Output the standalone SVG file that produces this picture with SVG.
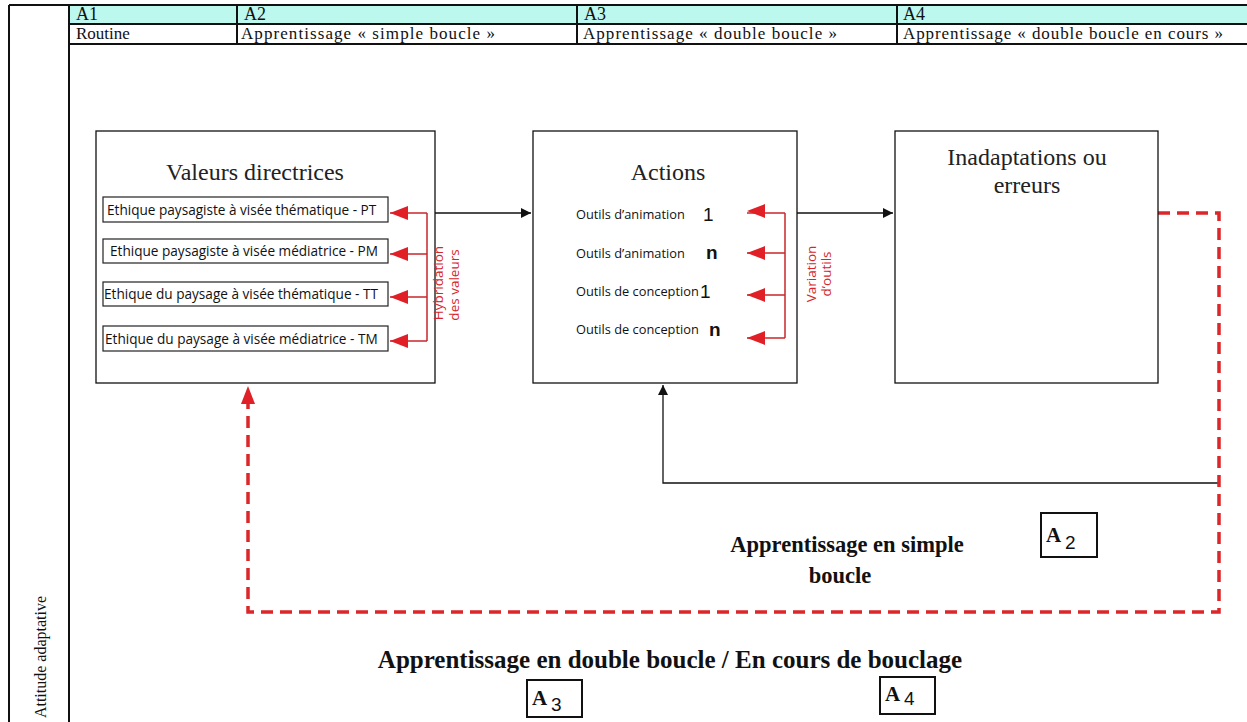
<svg xmlns="http://www.w3.org/2000/svg" width="1247" height="722" viewBox="0 0 1247 722">
<defs>
<style>
.tbl{fill:none;stroke:#111;stroke-width:2}
.th{font-family:"Liberation Serif",serif;font-size:18px;fill:#111}
.td{font-family:"Liberation Serif",serif;font-size:17px;fill:#111}
.box{fill:#fff;stroke:#111;stroke-width:1.3}
.title{font-family:"Liberation Serif","Times New Roman",serif;font-size:24px;fill:#222}
.item{fill:#fff;stroke:#222;stroke-width:1.2}
.it{font-family:"Open Sans","DejaVu Sans",sans-serif;font-size:13.6px;fill:#111}
.ot{font-family:"Open Sans","DejaVu Sans",sans-serif;font-size:12.8px;fill:#111}
.num{font-family:"Liberation Sans",sans-serif;font-size:19px;fill:#111}
.red{fill:none;stroke:#c8272b;stroke-width:1.5}
.rt{font-family:"Open Sans","DejaVu Sans",sans-serif;font-size:13.5px;fill:#d7262b}
.blk{fill:none;stroke:#111;stroke-width:1.3}
.dash{fill:none;stroke:#dc262a;stroke-width:3.5;stroke-dasharray:12 7}
.big{font-family:"Liberation Serif",serif;font-weight:bold;fill:#111}
.lab{fill:#fff;stroke:#111;stroke-width:2}
.lt{font-family:"Liberation Serif",serif;font-size:21px;font-weight:bold;fill:#111}
.sub{font-family:"Liberation Sans",sans-serif;font-size:19px;fill:#111}
</style>
<marker id="ab" viewBox="0 0 10 10" refX="10" refY="5" markerWidth="14" markerHeight="10" markerUnits="userSpaceOnUse" orient="auto"><path d="M0,0 L10,5 L0,10 z" fill="#111"/></marker>
</defs>
<rect width="1247" height="722" fill="#fff"/>

<g id="table">
<rect x="69" y="5" width="1180" height="19" fill="#bcf8ee"/>
<path class="tbl" d="M9,5 H1249 M69,24 H1249 M69,44 H1249 M9,5 V722 M69,5 V722 M237,5 V44 M577,5 V44 M897,5 V44"/>
<text class="th" x="76" y="20">A1</text>
<text class="th" x="244" y="20">A2</text>
<text class="th" x="584" y="20">A3</text>
<text class="th" x="903" y="20">A4</text>
<text class="td" x="76" y="39">Routine</text>
<text class="td" x="241" y="39" textLength="254" lengthAdjust="spacing">Apprentissage « simple boucle »</text>
<text class="td" x="583" y="39" textLength="254" lengthAdjust="spacing">Apprentissage « double boucle »</text>
<text class="td" x="903" y="39" textLength="320" lengthAdjust="spacing">Apprentissage « double boucle en cours »</text>
<text class="td" transform="translate(46,657) rotate(-90)" text-anchor="middle" style="font-size:16px">Attitude adaptative</text>
</g>

<g id="connectors">
<path class="blk" d="M435,213 H531" marker-end="url(#ab)"/>
<path class="blk" d="M797,213 H893" marker-end="url(#ab)"/>
<path class="blk" d="M1219,483 H663 V385" marker-end="url(#ab)"/>
<path class="dash" d="M1158,213 H1219 V612 H248 V400"/>
<path d="M248,386 L241,404 L255,404 z" fill="#e01f26"/>
</g>

<g id="valeurs">
<rect class="box" x="96" y="131" width="339" height="252"/>
<text class="title" x="255" y="180" text-anchor="middle">Valeurs directrices</text>
<rect class="item" x="103" y="197" width="285" height="25"/>
<text class="it" x="107" y="215">Ethique paysagiste à visée thématique - PT</text>
<rect class="item" x="103" y="239" width="285" height="24"/>
<text class="it" x="110" y="256">Ethique paysagiste à visée médiatrice - PM</text>
<rect class="item" x="103" y="282" width="285" height="24"/>
<text class="it" x="104" y="299">Ethique du paysage à visée thématique - TT</text>
<rect class="item" x="103" y="326" width="285" height="25"/>
<text class="it" x="105" y="344">Ethique du paysage à visée médiatrice - TM</text>
<path class="red" d="M427,213 V341 M427,213 H390 M427,254 H390 M427,297 H390 M427,341 H390"/>
<path d="M390,213 L408,206 L408,220 z M390,254 L408,247 L408,261 z M390,297 L408,290 L408,304 z M390,341 L408,334 L408,348 z" fill="#e01f26"/>
<text class="rt" transform="translate(443,283) rotate(-90)" text-anchor="middle">Hybridation</text>
<text class="rt" transform="translate(459,285) rotate(-90)" text-anchor="middle">des valeurs</text>
</g>

<g id="actions">
<rect class="box" x="533" y="131" width="264" height="252"/>
<text class="title" x="668" y="180" text-anchor="middle">Actions</text>
<text class="ot" x="576" y="219">Outils d’animation</text>
<text class="num" x="703" y="221">1</text>
<text class="ot" x="576" y="258">Outils d’animation</text>
<text class="num" x="706" y="259" font-weight="bold">n</text>
<text class="ot" x="576" y="296">Outils de conception</text>
<text class="num" x="700" y="298">1</text>
<text class="ot" x="576" y="334">Outils de conception</text>
<text class="num" x="709" y="336" font-weight="bold">n</text>
<path class="red" d="M785,213 V338 M785,213 H747 M785,253 H747 M785,295 H747 M785,338 H747"/>
<path d="M747,211 L765,204 L765,218 z M747,253 L765,246 L765,260 z M747,295 L765,288 L765,302 z M747,338 L765,331 L765,345 z" fill="#e01f26"/>
<text class="rt" transform="translate(816,274) rotate(-90)" text-anchor="middle">Variation</text>
<text class="rt" transform="translate(831,274) rotate(-90)" text-anchor="middle">d’outils</text>
</g>

<g id="inadaptations">
<rect class="box" x="895" y="131" width="263" height="252"/>
<text class="title" x="1027" y="165" text-anchor="middle">Inadaptations ou</text>
<text class="title" x="1027" y="193" text-anchor="middle">erreurs</text>
</g>

<g id="simple-loop-label">
<text class="big" x="847" y="552" text-anchor="middle" style="font-size:22.5px">Apprentissage en simple</text>
<text class="big" x="840" y="583" text-anchor="middle" style="font-size:22.5px">boucle</text>
<rect class="lab" x="1041" y="513" width="56" height="44"/>
<text class="lt" x="1046" y="542">A</text><text class="sub" x="1065" y="549">2</text>
</g>

<g id="double-loop-label">
<text class="big" x="670" y="668" text-anchor="middle" style="font-size:25px">Apprentissage en double boucle / En cours de bouclage</text>
<rect class="lab" x="527" y="680" width="55" height="37"/>
<text class="lt" x="532" y="705">A</text><text class="sub" x="551" y="711">3</text>
<rect class="lab" x="880" y="677" width="55" height="37"/>
<text class="lt" x="885" y="701">A</text><text class="sub" x="904" y="705">4</text>
</g>
</svg>
